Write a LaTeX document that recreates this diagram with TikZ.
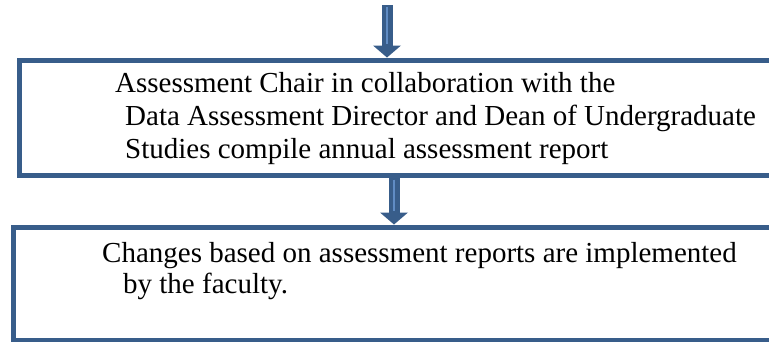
\documentclass[tikz,border=0pt]{standalone}
\usepackage{fontspec}
\setmainfont{Liberation Serif}
\usetikzlibrary{arrows.meta}
\definecolor{boxblue}{RGB}{56,93,138}
\definecolor{shaftblue}{RGB}{96,140,196}
\tikzset{
  stagebox/.style={draw=boxblue, line width=5pt, rectangle, inner sep=0pt, anchor=north west},
  stagetext/.style={anchor=north west, align=left, inner sep=0pt},
  blockarrow/.style={draw=boxblue, line width=11pt, -{Triangle[width=28pt,length=12pt,line width=0pt]},
    postaction={draw=shaftblue, line width=1.5pt, -, shorten >=14pt, shorten <=2pt}},
}
\begin{document}
\begin{tikzpicture}[x=1pt,y=-1pt]
  \useasboundingbox (0,0) rectangle (769,341);

  % Upper box
  \node[stagebox, minimum width=783pt, minimum height=115pt] (chair) at (17,57.5) {};
  \node[stagetext, font=\fontsize{29}{33}\selectfont] (chairtext) at (115,72)
    {Assessment Chair in collaboration with the\\
     \hspace*{10pt}Data Assessment Director and Dean of Undergraduate\\
     \hspace*{10pt}Studies compile annual assessment report};

  % Lower box
  \node[stagebox, minimum width=789.5pt, minimum height=113pt] (changes) at (10.5,224.5) {};
  \node[stagetext, font=\fontsize{29}{31}\selectfont] (changestext) at (102,242)
    {Changes based on assessment reports are implemented\\
     \hspace*{21pt}by the faculty.};

  % Arrows
  \coordinate (topin) at (387,5);
  \coordinate (midx) at (394,0);
  \coordinate (midout) at (chair.south -| midx);
  \draw[blockarrow] (topin) -- (topin |- chair.north);
  \draw[blockarrow] (midout) -- (midout |- changes.north);
\end{tikzpicture}
\end{document}
